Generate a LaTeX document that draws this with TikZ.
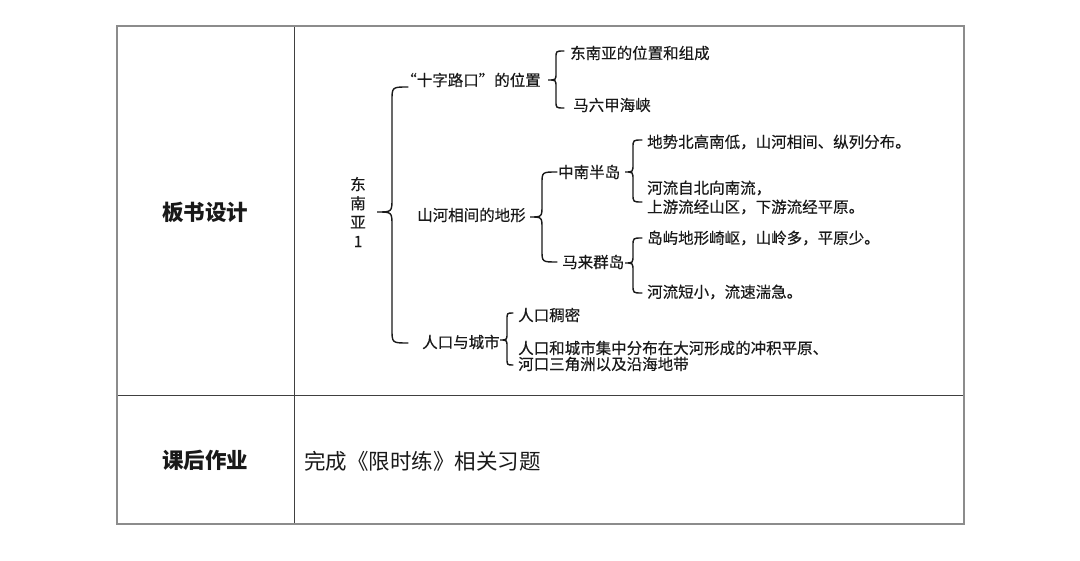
\documentclass[tikz,border=0pt]{standalone}
\usepackage{fontspec}
\newfontfamily\cjk{Noto Sans CJK SC}
\newfontfamily\cjkm[FakeBold=0.35]{Noto Sans CJK SC}
\tikzset{
  mm/.style={font=\cjkm\fontsize{15.5}{19}\selectfont, inner sep=0pt, anchor=west, text=black!90},
  lbl/.style={font=\cjk\bfseries\fontsize{21.5}{24}\selectfont, inner sep=0pt, text=black!90},
  brc/.style={draw=black!90, line width=1.4pt, line cap=round},
  outer/.style={draw=black!45, line width=1.3pt},
  inner/.style={draw=black!75, line width=1pt}
}
\newcommand\mybrc[7]{\path[brc] (#1,#4) .. controls (#2,#4) .. (#2,{#4+#7}) -- (#2,{#5-#7}) .. controls (#2,#5) .. (#3,#5) .. controls (#2,#5) .. (#2,{#5+#7}) -- (#2,{#6-#7}) .. controls (#2,#6) .. (#1,#6);}
\begin{document}
\begin{tikzpicture}[x=1pt,y=-1pt]
\useasboundingbox[fill=white] (0,0) rectangle (1080,561);
% table
\draw[inner] (294,26) -- (294,524);
\draw[inner] (117,396) -- (964,396);
\draw[outer] (117,26) rectangle (964,524);
% labels
\node[lbl] (bs) at (205,212) {板书设计};
\node[lbl] (hw) at (205,460) {课后作业};
\node[font=\cjk\fontsize{21.5}{24}\selectfont, inner sep=0pt, anchor=west, text=black!90] (hwt) at (304,461) {完成《限时练》相关习题};
% mind map
\node[mm, anchor=center, align=center] (root) at (358,212) {东\\南\\亚\\1};
\node[mm, anchor=east] (a) at (541,80) {“十字路口”的位置};
\node[mm] (a1) at (570,53) {东南亚的位置和组成};
\node[mm] (a2) at (573,105) {马六甲海峡};
\node[mm] (b) at (417,215) {山河相间的地形};
\node[mm] (b1) at (558,172) {中南半岛};
\node[mm] (b11) at (647,142) {地势北高南低，山河相间、纵列分布。};
\node[mm, align=left] (b12) at (647,197.5) {河流自北向南流，\\上游流经山区，下游流经平原。};
\node[mm] (b2) at (562,262) {马来群岛};
\node[mm] (b21) at (647,238) {岛屿地形崎岖，山岭多，平原少。};
\node[mm] (b22) at (647,292) {河流短小，流速湍急。};
\node[mm] (c) at (422,342) {人口与城市};
\node[mm] (c1) at (518,315) {人口稠密};
\node[mm, align=left, font=\cjkm\fontsize{15.5}{16}\selectfont] (c2) at (518,356) {人口和城市集中分布在大河形成的冲积平原、\\河口三角洲以及沿海地带};
% braces
\mybrc{408}{392}{377}{87}{212}{343}{14}
\mybrc{564}{556}{548}{51}{80}{108}{7}
\mybrc{557}{542}{530}{172}{217}{262}{12}
\mybrc{642}{633}{625}{140}{172}{202}{8}
\mybrc{642}{633}{625}{238}{263}{293}{8}
\mybrc{513}{507}{500}{313}{340}{365}{7}
\end{tikzpicture}
\end{document}
